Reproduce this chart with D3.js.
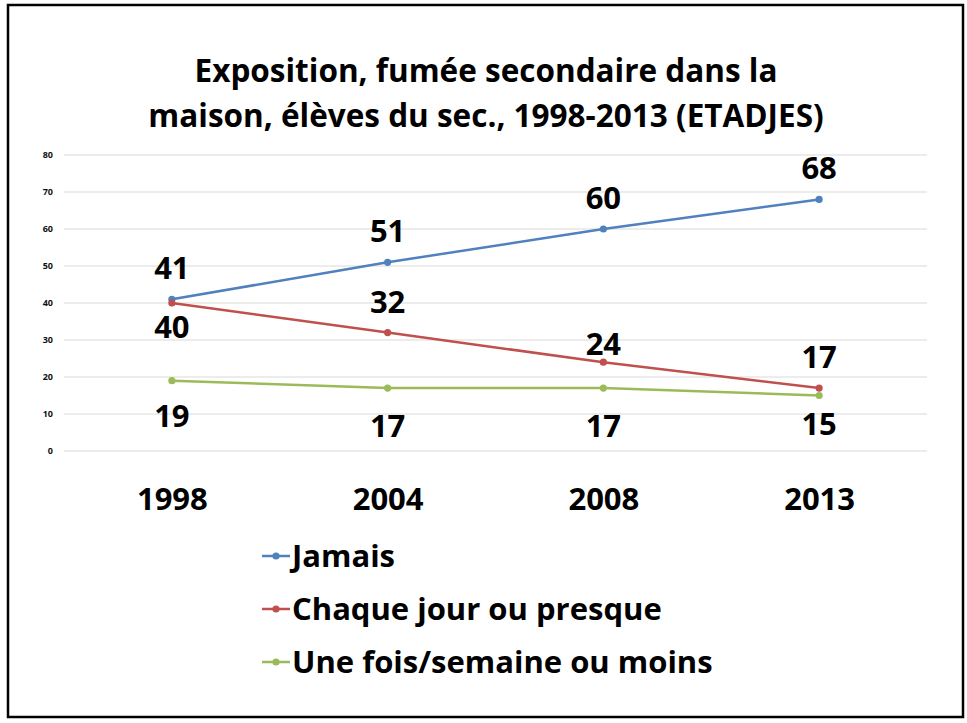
<!DOCTYPE html>
<html><head><meta charset="utf-8">
<script src="https://cdn.jsdelivr.net/npm/d3@7"></script>
<style>body{margin:0;background:#fff}svg{display:block}</style>
</head><body>
<svg id="c" width="967" height="723"></svg>
<script>
const years = ["1998","2004","2008","2013"];
const seriesNames = ["Jamais","Chaque jour ou presque","Une fois/semaine ou moins"];
const jamais = [41,51,60,68];
const chaque = [40,32,24,17];
const uneFois = [19,17,17,15];
const yTicks = [0,10,20,30,40,50,60,70,80];
const titleLines = ["Exposition, fumée secondaire dans la","maison, élèves du sec., 1998-2013 (ETADJES)"];

const colors = ["#4F81BD","#C0504D","#9BBB59"];
const seriesVals = [jamais, chaque, uneFois];
// label baseline offsets relative to each point (placement, as in the original)
const labelDy = [[-20,-20,-20,-20],[35,-20,-7,-20],[46,49,49,39]];

const svg = d3.select("#c");
const font = "'Open Sans', Lato, sans-serif";
svg.append("rect").attr("x",8).attr("y",5).attr("width",955).attr("height",712)
  .attr("fill","#fff").attr("stroke","#000").attr("stroke-width",2.5);

svg.selectAll("text.title").data(titleLines).enter().append("text")
  .attr("x",486).attr("y",(d,i)=>82+i*45).attr("text-anchor","middle")
  .attr("font-family",font).attr("font-weight","bold").attr("font-size",31.5).text(d=>d);

const x = d3.scalePoint().domain(years).range([64,927]).padding(0.5);
const y = d3.scaleLinear().domain([0,80]).range([451,155]);

const grid = svg.append("g");
grid.selectAll("line").data(yTicks).enter().append("line")
  .attr("x1",64).attr("x2",927).attr("y1",d=>y(d)).attr("y2",d=>y(d))
  .attr("stroke","#d9d9d9").attr("stroke-width",1.2);

const yAxis = svg.append("g").attr("transform","translate(58,0)")
  .call(d3.axisLeft(y).tickValues(yTicks).tickSize(0).tickPadding(5));
yAxis.select(".domain").remove();
yAxis.selectAll("text").attr("font-family",font).attr("font-weight","bold").attr("font-size",9).attr("fill","#111");

const xAxis = svg.append("g").attr("transform","translate(0,451)")
  .call(d3.axisBottom(x).tickSize(0).tickPadding(37));
xAxis.select(".domain").remove();
xAxis.selectAll("text").attr("font-family",font).attr("font-weight","bold").attr("font-size",31).attr("fill","#000");

const line = d3.line().x((d,i)=>x(years[i])).y(d=>y(d));
seriesVals.forEach((vals,s)=>{
  svg.append("path").datum(vals).attr("d",line).attr("fill","none")
    .attr("stroke",colors[s]).attr("stroke-width",2.5);
  svg.selectAll(null).data(vals).enter().append("circle")
    .attr("cx",(d,i)=>x(years[i])).attr("cy",d=>y(d)).attr("r",3.6).attr("fill",colors[s]);
  svg.selectAll(null).data(vals).enter().append("text")
    .attr("x",(d,i)=>x(years[i]))
    .attr("y",(d,i)=> y(d)+labelDy[s][i])
    .attr("text-anchor","middle").attr("font-family",font).attr("font-weight","bold")
    .attr("font-size",31).text(d=>d);
});

const leg = svg.append("g");
seriesNames.forEach((n,i)=>{
  const yy = 556 + i*53;
  leg.append("line").attr("x1",262).attr("x2",290).attr("y1",yy).attr("y2",yy)
    .attr("stroke",colors[i]).attr("stroke-width",2.5);
  leg.append("circle").attr("cx",276).attr("cy",yy).attr("r",3.6).attr("fill",colors[i]);
  leg.append("text").attr("x",292).attr("y",yy+11).attr("font-family",font)
    .attr("font-weight","bold").attr("font-size",31).text(n);
});
</script>
</body></html>
